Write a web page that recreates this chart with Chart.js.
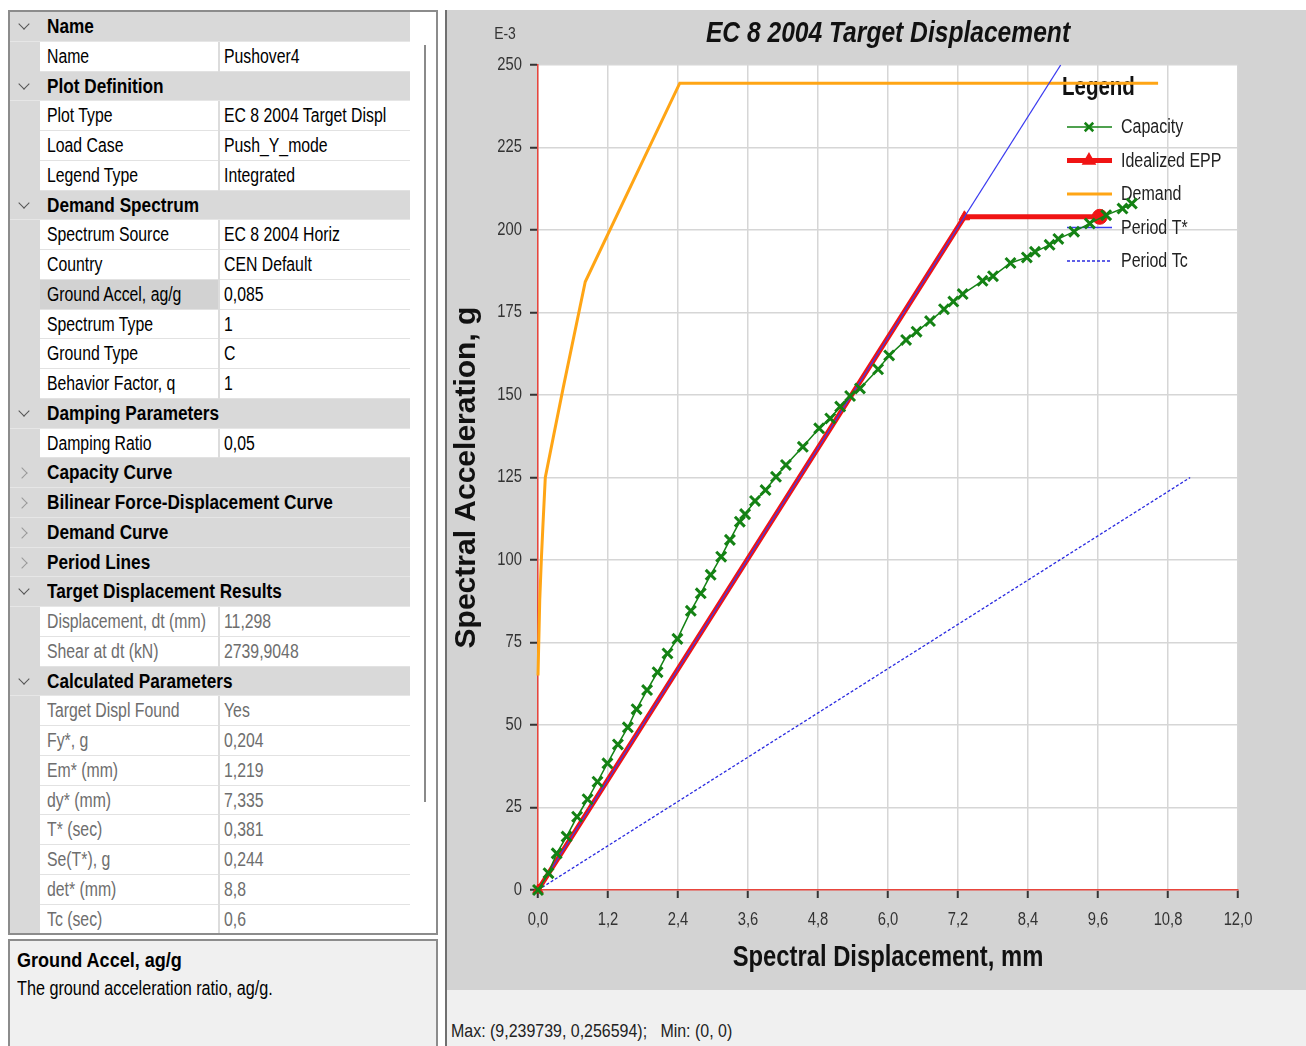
<!DOCTYPE html>
<html>
<head>
<meta charset="utf-8">
<title>EC 8 2004 Target Displacement</title>
<script src="https://cdn.jsdelivr.net/npm/chart.js@4.4.0/dist/chart.umd.min.js"></script>
<style>
  body { margin: 0; width: 1306px; height: 1046px; background: #fff; position: relative; overflow: hidden;
         font-family: "Liberation Sans", Arial, sans-serif; color: #000; }
  .n { display: inline-block; white-space: nowrap; transform: scaleX(0.79); transform-origin: 0 50%; }
  .b { display: inline-block; white-space: nowrap; transform: scaleX(0.86); transform-origin: 0 50%; font-weight: bold; }
  #grid { position: absolute; left: 8px; top: 10px; width: 426px; height: 921px; border: 2px solid #8c8c8c; background: #fff; overflow: hidden; }
  .row { position: absolute; left: 0; width: 400px; height: 29.75px; font-size: 20px; line-height: 29.75px; }
  .cat { background: #d9d9d9; border-bottom: 1px solid #e6e6e6; box-sizing: border-box; }
  .cat span.b { position: absolute; left: 37px; top: 0; }
  .gut { position: absolute; left: 0; top: 0; width: 30px; height: 100%; background: #d9d9d9; }
  .lab { position: absolute; left: 30px; top: 0; width: 178px; height: 100%; background: #fff; border-bottom: 1px solid #e2e2e2; box-sizing: border-box; padding-left: 7px; overflow: hidden; }
  .val { position: absolute; left: 210px; top: 0; width: 190px; height: 100%; background: #fff; border-bottom: 1px solid #e2e2e2; box-sizing: border-box; padding-left: 4px; overflow: hidden; }
  .sep { position: absolute; left: 208px; top: 0; width: 2px; height: 100%; background: #dcdcdc; }
  .sel .lab { background: #d2d2d2; }
  .ro { color: #6e6e6e; }
  .chev { position: absolute; left: 10px; width: 7px; height: 7px; border-right: 1.5px solid #555; border-bottom: 1.5px solid #555; }
  .open .chev { top: 8px; transform: rotate(45deg); }
  .closed .chev { top: 11px; left: 8px; transform: rotate(-45deg); border-color: #999; }
  #thumb { position: absolute; left: 414px; top: 33px; width: 2px; height: 757px; background: #8a8a8a; }
  #desc { position: absolute; left: 8px; top: 939px; width: 426px; height: 120px; border: 2px solid #8c8c8c; background: #f0f0f0; }
  #desc .t1 { position: absolute; left: 7px; top: 7px; font-size: 21px; }
  #desc .t2 { position: absolute; left: 7px; top: 35px; font-size: 20.5px; }
  #panel { position: absolute; left: 445px; top: 10px; width: 859px; height: 980px; border-left: 2px solid #707070; background: #d3d3d3; }
  #status { position: absolute; left: 445px; top: 990px; width: 861px; height: 56px; border-left: 2px solid #707070; background: #f0f0f0; box-sizing: border-box; }
  #status span { position: absolute; left: 4px; top: 30px; font-size: 19px; white-space: pre; color: #222; transform: scaleX(0.84); }
  canvas { position: absolute; left: 0; top: 0; }
</style>
</head>
<body>
<div id="grid"></div>
<div id="desc"><div class="t1"><span class="b">Ground Accel, ag/g</span></div><div class="t2"><span class="n">The ground acceleration ratio, ag/g.</span></div></div>
<div id="panel"><canvas id="pushoverChart" width="859" height="980"></canvas></div>
<div id="status"><span class="n">Max: (9,239739, 0,256594);   Min: (0, 0)</span></div>

<script>
// property grid rows: [kind, label, value, flags]
const gridRows = [
    ["cat", "Name"],
    ["prop", "Name", "Pushover4"],
    ["cat", "Plot Definition"],
    ["prop", "Plot Type", "EC 8 2004 Target Displ"],
    ["prop", "Load Case", "Push_Y_mode"],
    ["prop", "Legend Type", "Integrated"],
    ["cat", "Demand Spectrum"],
    ["prop", "Spectrum Source", "EC 8 2004 Horiz"],
    ["prop", "Country", "CEN Default"],
    ["prop", "Ground Accel, ag/g", "0,085", "sel"],
    ["prop", "Spectrum Type", "1"],
    ["prop", "Ground Type", "C"],
    ["prop", "Behavior Factor, q", "1"],
    ["cat", "Damping Parameters"],
    ["prop", "Damping Ratio", "0,05"],
    ["closed", "Capacity Curve"],
    ["closed", "Bilinear Force-Displacement Curve"],
    ["closed", "Demand Curve"],
    ["closed", "Period Lines"],
    ["cat", "Target Displacement Results"],
    ["prop", "Displacement, dt (mm)", "11,298", "ro"],
    ["prop", "Shear at dt (kN)", "2739,9048", "ro"],
    ["cat", "Calculated Parameters"],
    ["prop", "Target Displ Found", "Yes", "ro"],
    ["prop", "Fy*, g", "0,204", "ro"],
    ["prop", "Em* (mm)", "1,219", "ro"],
    ["prop", "dy* (mm)", "7,335", "ro"],
    ["prop", "T* (sec)", "0,381", "ro"],
    ["prop", "Se(T*), g", "0,244", "ro"],
    ["prop", "det* (mm)", "8,8", "ro"],
    ["prop", "Tc (sec)", "0,6", "ro"]
];

// chart data (Sd in mm, Sa in E-3 g)
const xTicks = [0, 1.2, 2.4, 3.6, 4.8, 6.0, 7.2, 8.4, 9.6, 10.8, 12.0];
const yTicks = [0, 25, 50, 75, 100, 125, 150, 175, 200, 225, 250];

const capacitySd = [0, 0.18, 0.32, 0.49, 0.67, 0.85, 1.02, 1.19, 1.37, 1.54, 1.69, 1.87, 2.05, 2.22, 2.39,
    2.62, 2.79, 2.96, 3.14, 3.29, 3.46, 3.55, 3.72, 3.90, 4.08, 4.25, 4.54, 4.82, 5.01, 5.18, 5.35, 5.52,
    5.83, 6.02, 6.31, 6.49, 6.72, 6.96, 7.12, 7.28, 7.62, 7.80, 8.10, 8.38, 8.52, 8.77, 8.92, 9.19, 9.46,
    9.74, 10.02, 10.18];
const capacitySa = [0, 5.1, 11.1, 16.2, 22.2, 27.5, 32.8, 38.4, 44.1, 49.3, 54.8, 60.6, 66.0, 71.7, 76.1,
    84.6, 89.9, 95.5, 101.0, 106.1, 111.6, 113.9, 117.9, 121.2, 125.2, 128.8, 134.3, 139.9, 142.9, 146.5, 149.7, 152.0,
    157.8, 162.0, 166.7, 169.2, 172.4, 176.0, 178.3, 180.6, 184.6, 186.0, 190.0, 191.7, 193.4, 195.5, 197.3, 199.5, 202.0,
    204.5, 206.5, 208.0];

const eppSd = [0, 7.31, 9.63];
const eppSa = [0, 204, 204];

const demandSd = [0, 0.03, 0.057, 0.086, 0.125, 0.26, 0.43, 0.81, 2.43, 10.63];
const demandSa = [65, 88, 100, 111, 125, 137, 152, 184.3, 244.5, 244.5];

const periodTStarSd = [0, 8.96];
const periodTStarSa = [0, 250];

const periodTcSd = [0, 11.18];
const periodTcSa = [0, 125];

const FONT = '"Liberation Sans", Arial, sans-serif';

function renderGrid() {
    const grid = document.getElementById("grid");
    let html = "";
    gridRows.forEach((r, i) => {
        const top = (i * 29.75).toFixed(2);
        if (r[0] === "prop") {
            const cls = r[3] === "sel" ? "row sel" : (r[3] === "ro" ? "row ro" : "row");
            html += `<div class="${cls}" style="top:${top}px"><div class="gut"></div>
                <div class="lab"><span class="n">${r[1]}</span></div><div class="sep"></div>
                <div class="val"><span class="n">${r[2]}</span></div></div>`;
        } else {
            const state = r[0] === "closed" ? "closed" : "open";
            html += `<div class="row cat ${state}" style="top:${top}px"><div class="chev"></div><span class="b">${r[1]}</span></div>`;
        }
    });
    html += `<div id="thumb"></div>`;
    grid.innerHTML = html;
}

const toPoints = (xs, ys) => xs.map((x, i) => ({ x: x, y: ys[i] }));

// texte étroit : police normale comprimée horizontalement
function drawNarrow(ctx, text, x, y, font, align, color, rotate, sx) {
    ctx.save();
    ctx.translate(x, y);
    if (rotate) ctx.rotate(rotate);
    ctx.scale(sx || 0.82, 1);
    ctx.font = font;
    ctx.fillStyle = color || "#111";
    ctx.textAlign = align || "left";
    ctx.textBaseline = "middle";
    ctx.fillText(text, 0, 0);
    ctx.restore();
}

const decorPlugin = {
    id: "decor",
    beforeDraw(chart) {
        const { ctx, chartArea } = chart;
        ctx.save();
        ctx.fillStyle = "#ffffff";
        ctx.fillRect(chartArea.left, chartArea.top, chartArea.right - chartArea.left, chartArea.bottom - chartArea.top);
        ctx.restore();
    },
    beforeDatasetsDraw(chart) {
        // légende intégrée dans la zone de tracé
        const { ctx, chartArea } = chart;
        const x0 = chartArea.right - 171;
        drawNarrow(ctx, "Legend", x0 - 5, chartArea.top + 23, "bold 25px " + FONT, "left", "#111");
        chart.data.datasets.forEach((ds, i) => {
            const y = chartArea.top + 62 + i * 33.5;
            ctx.save();
            ctx.strokeStyle = ds.borderColor;
            ctx.lineWidth = ds.borderWidth;
            ctx.setLineDash(ds.borderDash || []);
            ctx.beginPath();
            ctx.moveTo(x0, y);
            ctx.lineTo(x0 + 45, y);
            ctx.stroke();
            ctx.setLineDash([]);
            if (ds.legendMarker) {
                ctx.fillStyle = ds.borderColor;
                ctx.lineWidth = 2.5;
                Chart.helpers.drawPoint(ctx, { pointStyle: ds.legendMarker, radius: 6, borderWidth: 2.5, rotation: 0 }, x0 + 22, y);
            }
            ctx.restore();
            drawNarrow(ctx, ds.label, x0 + 54, y + 1, "19.5px " + FONT, "left", "#222");
        });
    },
    afterDraw(chart) {
        const { ctx, chartArea, scales } = chart;
        const midX = (chartArea.left + chartArea.right) / 2;
        const midY = (chartArea.top + chartArea.bottom) / 2;
        drawNarrow(ctx, "EC 8 2004 Target Displacement", midX, 24, "italic bold 30px " + FONT, "center", "#111");
        drawNarrow(ctx, "E-3", 58, 24, "17px " + FONT, "center", "#333");
        yTicks.forEach(v => {
            drawNarrow(ctx, String(v), chartArea.left - 16, scales.y.getPixelForValue(v), "18px " + FONT, "right", "#333");
        });
        xTicks.forEach(v => {
            drawNarrow(ctx, v.toFixed(1).replace(".", ","), scales.x.getPixelForValue(v), chartArea.bottom + 30,
                "18px " + FONT, "center", "#333");
        });
        drawNarrow(ctx, "Spectral Displacement, mm", midX, 948, "bold 29px " + FONT, "center", "#111");
        drawNarrow(ctx, "Spectral Acceleration, g", 20, midY, "bold 30px " + FONT, "center", "#111", -Math.PI / 2, 1);
    }
};

function renderChart() {
    const ctx = document.getElementById("pushoverChart").getContext("2d");
    new Chart(ctx, {
        type: "scatter",
        data: {
            datasets: [
                {
                    label: "Capacity",
                    data: toPoints(capacitySd, capacitySa),
                    showLine: true,
                    borderColor: "#148214",
                    backgroundColor: "#148214",
                    borderWidth: 1.5,
                    pointStyle: "crossRot",
                    pointRadius: 7,
                    pointBorderWidth: 3,
                    legendMarker: "crossRot",
                    order: 1,
                    clip: false
                },
                {
                    label: "Idealized EPP",
                    data: toPoints(eppSd, eppSa),
                    showLine: true,
                    borderColor: "#f01414",
                    backgroundColor: "#f01414",
                    borderWidth: 5,
                    pointStyle: ["triangle", "triangle", "circle"],
                    pointRadius: [6, 6, 7.5],
                    pointBorderWidth: 1,
                    legendMarker: "triangle",
                    order: 3,
                    clip: false
                },
                {
                    label: "Demand",
                    data: toPoints(demandSd, demandSa),
                    showLine: true,
                    borderColor: "#ffa515",
                    borderWidth: 3,
                    pointRadius: 0,
                    order: 4,
                    clip: false
                },
                {
                    label: "Period T*",
                    data: toPoints(periodTStarSd, periodTStarSa),
                    showLine: true,
                    borderColor: "#3a3af0",
                    borderWidth: 1.3,
                    pointRadius: 0,
                    order: 2,
                    clip: false
                },
                {
                    label: "Period Tc",
                    data: toPoints(periodTcSd, periodTcSa),
                    showLine: true,
                    borderColor: "#2a2ae0",
                    borderWidth: 1.3,
                    borderDash: [3, 2],
                    pointRadius: 0,
                    order: 5,
                    clip: false
                }
            ]
        },
        options: {
            responsive: false,
            animation: false,
            devicePixelRatio: 1,
            layout: { padding: { left: 0, right: 68, top: 55, bottom: 0 } },
            plugins: {
                legend: { display: false },
                tooltip: { enabled: false }
            },
            scales: {
                x: {
                    type: "linear",
                    min: 0,
                    max: 12,
                    afterBuildTicks: (scale) => { scale.ticks = xTicks.map(v => ({ value: v })); },
                    afterFit: (scale) => { scale.height = 100; },
                    border: { color: "#e8453c", width: 1.5 },
                    grid: { color: "#d6d6d6", lineWidth: 1.5, tickColor: "#333", tickWidth: 2, tickLength: 8 },
                    ticks: { display: false }
                },
                y: {
                    type: "linear",
                    min: 0,
                    max: 250,
                    afterBuildTicks: (scale) => { scale.ticks = yTicks.map(v => ({ value: v })); },
                    afterFit: (scale) => { scale.width = 91; },
                    border: { color: "#e8453c", width: 1.5 },
                    grid: { color: "#d6d6d6", lineWidth: 1.5, tickColor: "#333", tickWidth: 2, tickLength: 8 },
                    ticks: { display: false }
                }
            }
        },
        plugins: [decorPlugin]
    });
}

renderGrid();
renderChart();
</script>
</body>
</html>
